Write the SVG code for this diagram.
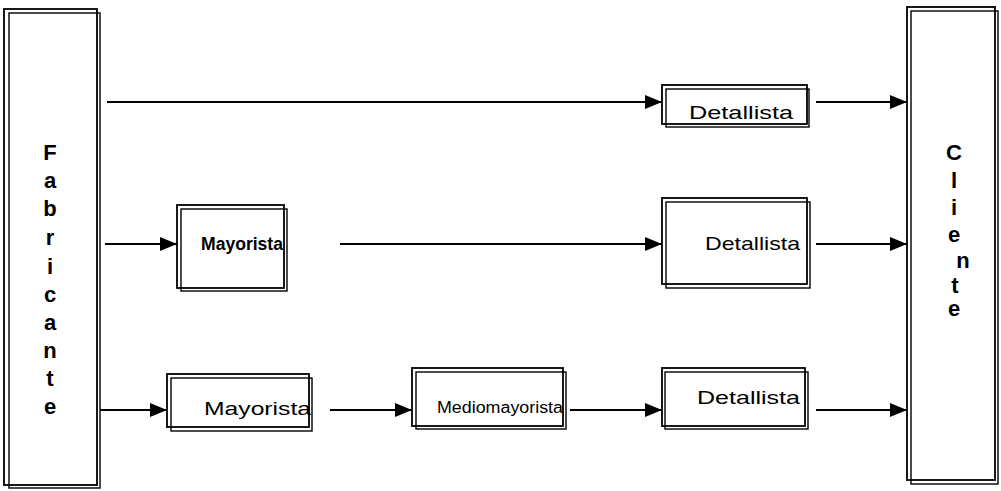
<svg xmlns="http://www.w3.org/2000/svg" width="1001" height="491" viewBox="0 0 1001 491">
<style>
.box{fill:none;stroke:#000;stroke-width:1.8}
.box2{fill:none;stroke:#000;stroke-width:1.4}
.col{font-family:"Liberation Sans",Arial,sans-serif;font-weight:bold;font-size:22px;fill:#000;text-anchor:middle}
.lbl{font-family:"Liberation Sans",Arial,sans-serif;font-size:19px;fill:#000}
.lblb{font-family:"Liberation Sans",Arial,sans-serif;font-size:18px;font-weight:bold;fill:#000}
.small{font-family:"Liberation Sans",Arial,sans-serif;font-size:16px;fill:#000}
.ln{stroke:#000;stroke-width:2;fill:none;marker-end:url(#ah)}
</style>
<defs>
<marker id="ah" markerUnits="userSpaceOnUse" markerWidth="17" markerHeight="14" refX="17" refY="7" orient="auto">
<path d="M0,0 L17,7 L0,14 Z" fill="#000"/>
</marker>
</defs>
<rect width="1001" height="491" fill="#fff"/>
<g id="fabricante">
<rect class="box" x="4" y="9" width="93" height="476"/>
<rect class="box2" x="9" y="13" width="91" height="475"/>
<text class="col" x="50" y="160">F</text>
<text class="col" x="50" y="188">a</text>
<text class="col" x="50" y="216">b</text>
<text class="col" x="50" y="245">r</text>
<text class="col" x="50" y="274">i</text>
<text class="col" x="50" y="302">c</text>
<text class="col" x="50" y="330">a</text>
<text class="col" x="50" y="358">n</text>
<text class="col" x="50" y="386">t</text>
<text class="col" x="50" y="414">e</text>
</g>
<g id="cliente">
<rect class="box" x="907" y="7" width="88" height="473"/>
<rect class="box2" x="911" y="11" width="87" height="473"/>
<text class="col" x="954" y="160">C</text>
<text class="col" x="954" y="188">l</text>
<text class="col" x="954" y="215">i</text>
<text class="col" x="954" y="242">e</text>
<text class="col" x="963" y="268">n</text>
<text class="col" x="955" y="293">t</text>
<text class="col" x="954" y="316">e</text>
</g>
<g id="detallista1">
<rect class="box" x="662" y="85" width="145" height="39"/>
<rect class="box2" x="666" y="89" width="143" height="38"/>
<text class="lbl" x="689" y="119" textLength="104" lengthAdjust="spacingAndGlyphs">Detallista</text>
</g>
<g id="mayorista1">
<rect class="box" x="177" y="205" width="107" height="83"/>
<rect class="box2" x="181" y="209" width="106" height="82"/>
<text class="lblb" x="201" y="250" textLength="82" lengthAdjust="spacingAndGlyphs">Mayorista</text>
</g>
<g id="detallista2">
<rect class="box" x="662" y="198" width="145" height="86"/>
<rect class="box2" x="666" y="202" width="144" height="86"/>
<text class="lbl" x="705" y="250" textLength="95" lengthAdjust="spacingAndGlyphs">Detallista</text>
</g>
<g id="mayorista2">
<rect class="box" x="167" y="374" width="142" height="53"/>
<rect class="box2" x="171" y="378" width="141" height="53"/>
<text class="lbl" x="204" y="415" textLength="107" lengthAdjust="spacingAndGlyphs">Mayorista</text>
</g>
<g id="mediomayorista">
<rect class="box" x="412" y="368" width="151" height="58"/>
<rect class="box2" x="416" y="372" width="150" height="57"/>
<text class="small" x="437" y="413" textLength="126" lengthAdjust="spacingAndGlyphs">Mediomayorista</text>
</g>
<g id="detallista3">
<rect class="box" x="662" y="368" width="143" height="58"/>
<rect class="box2" x="665" y="372" width="143" height="57"/>
<text class="lbl" x="697" y="404" textLength="103" lengthAdjust="spacingAndGlyphs">Detallista</text>
</g>
<g id="connectors">
<line class="ln" x1="107" y1="102" x2="662" y2="102"/>
<line class="ln" x1="816" y1="102" x2="907" y2="102"/>
<line class="ln" x1="105" y1="244" x2="177" y2="244"/>
<line class="ln" x1="340" y1="244" x2="662" y2="244"/>
<line class="ln" x1="816" y1="244" x2="907" y2="244"/>
<line class="ln" x1="100" y1="410" x2="167" y2="410"/>
<line class="ln" x1="330" y1="410" x2="412" y2="410"/>
<line class="ln" x1="570" y1="410" x2="662" y2="410"/>
<line class="ln" x1="816" y1="410" x2="907" y2="410"/>
</g>
</svg>
